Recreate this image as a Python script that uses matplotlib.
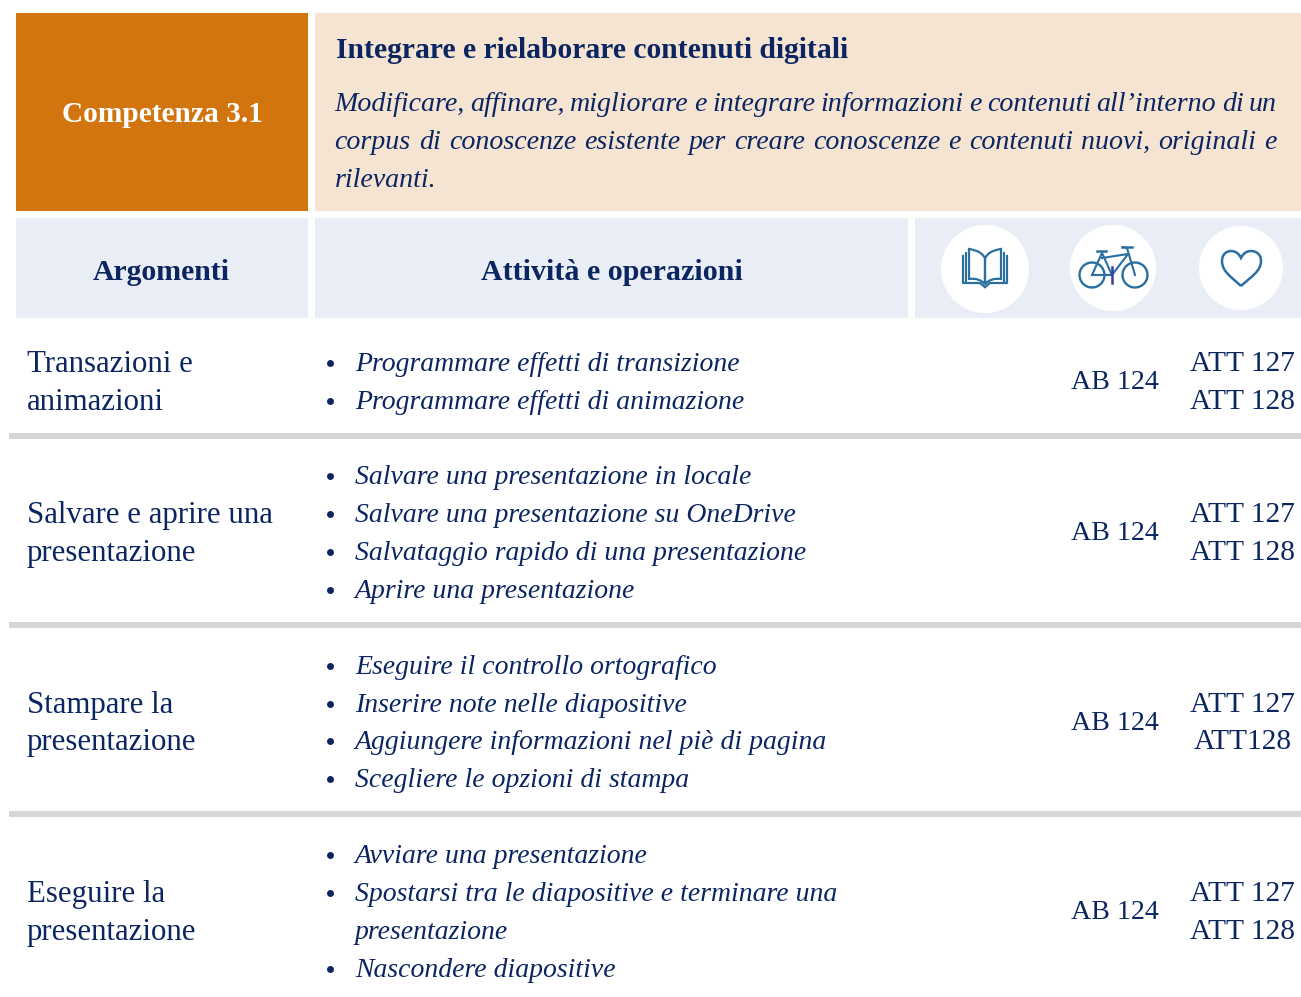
import matplotlib
matplotlib.use("Agg")
import matplotlib.pyplot as plt
from matplotlib.patches import Rectangle, Circle, PathPatch
from matplotlib.path import Path

W, H = 1301, 997
NAVY = "#0B2560"
BLUE = "#2A6F9E"
plt.rcParams["font.family"] = ["Liberation Serif", "DejaVu Serif"]

# testi
competenza = "Competenza 3.1"
titolo = "Integrare e rielaborare contenuti digitali"
descrizione = [
    "Modificare, affinare, migliorare e integrare informazioni e contenuti all’interno di un",
    "corpus di conoscenze esistente per creare conoscenze e contenuti nuovi, originali e",
    "rilevanti.",
]
intestazioni = ["Argomenti", "Attività e operazioni"]

argomenti = [
    ["Transazioni e", "animazioni"],
    ["Salvare e aprire una", "presentazione"],
    ["Stampare la", "presentazione"],
    ["Eseguire la", "presentazione"],
]
argomenti_y = [[361, 399], [512, 550], [702, 739], [891, 929]]

attivita = [
    ["Programmare effetti di transizione", "Programmare effetti di animazione"],
    ["Salvare una presentazione in locale", "Salvare una presentazione su OneDrive",
     "Salvataggio rapido di una presentazione", "Aprire una presentazione"],
    ["Eseguire il controllo ortografico", "Inserire note nelle diapositive",
     "Aggiungere informazioni nel piè di pagina", "Scegliere le opzioni di stampa"],
    ["Avviare una presentazione", "Spostarsi tra le diapositive e terminare una",
     "presentazione", "Nascondere diapositive"],
]
attivita_y = [[361, 399], [474, 512, 550, 588], [664, 702, 739, 777], [853, 891, 929, 967]]
senza_punto = ["presentazione"]

ab = ["AB 124", "AB 124", "AB 124", "AB 124"]
ab_y = [379, 530, 720, 909]
att = [["ATT 127", "ATT 128"], ["ATT 127", "ATT 128"], ["ATT 127", "ATT128"], ["ATT 127", "ATT 128"]]

fig = plt.figure(figsize=(W / 100, H / 100), dpi=100)
ax = fig.add_axes([0, 0, 1, 1])
ax.set_xlim(0, W)
ax.set_ylim(H, 0)
ax.axis("off")


def box(x0, y0, x1, y1, color):
    ax.add_patch(Rectangle((x0, y0), x1 - x0, y1 - y0, fc=color, ec="none"))


def scritta(x, y, s, size=19.6, **kw):
    kw.setdefault("color", NAVY)
    return ax.text(x, y, s, fontsize=size, va="center_baseline", **kw)


def giustifica(x0, x1, y, s, size, **kw):
    # riga giustificata: una parola alla volta
    r = fig.canvas.get_renderer()
    parole = s.split(" ")
    tt = [scritta(x0, y, p, size, **kw) for p in parole]
    ww = [t.get_window_extent(r).width for t in tt]
    gap = (x1 - x0 - sum(ww)) / (len(parole) - 1)
    x = x0
    for t, w in zip(tt, ww):
        t.set_x(x)
        x += w + gap


# blocchi
box(16, 13, 308, 211, "#D2750E")
box(315, 13, 1301, 211, "#F6E4D3")
box(16, 218, 308, 318, "#E9EDF6")
box(315, 218, 908, 318, "#E9EDF6")
box(915, 218, 1301, 318, "#E9EDF6")
for y in [433, 622, 811]:
    box(9, y, 1301, y + 6, "#D6D6D6")

scritta(162, 112, competenza, 21.2, color="white", weight="bold", ha="center")
scritta(336, 48, titolo, 21.3, weight="bold")
giustifica(334.5, 1277, 101.5, descrizione[0], 20.2, style="italic")
giustifica(334.5, 1277, 139.5, descrizione[1], 20.2, style="italic")
scritta(334.5, 177.5, descrizione[2], 20.2, style="italic")
scritta(161, 269.5, intestazioni[0], 21.4, weight="bold", ha="center")
scritta(612, 269.5, intestazioni[1], 21.6, weight="bold", ha="center")

# righe della tabella
for i in range(4):
    for s, y in zip(argomenti[i], argomenti_y[i]):
        scritta(27, y, s, 22.2)
    for s, y in zip(attivita[i], attivita_y[i]):
        scritta(355, y, s, 20, style="italic")
        if not (s in senza_punto and i == 3):
            ax.plot(330, y + 2, "o", ms=5, color=NAVY, mec="none")
    scritta(1115, ab_y[i], ab[i], 20.2, ha="center")
    scritta(1242.5, argomenti_y[i][0], att[i][0], 21.2, ha="center")
    scritta(1242.5, argomenti_y[i][1], att[i][1], 21.2, ha="center")

# icone
ax.add_patch(Circle((985, 269), 44, fc="white", ec="none"))
ax.add_patch(Circle((1113, 268), 43, fc="white", ec="none"))
ax.add_patch(Circle((1241, 268), 42, fc="white", ec="none"))

# libro
for lato in [-1, 1]:
    pag = Path([(985, 258), (985 + lato * 5, 250), (985 + lato * 12, 250), (985 + lato * 16, 249),
                (985 + lato * 16, 279), (985 + lato * 9, 278), (985 + lato * 4, 280), (985, 284), (985, 258)],
               [1, 4, 4, 4, 2, 4, 4, 4, 2])
    ax.add_patch(PathPatch(pag, fc="none", ec=BLUE, lw=1.6))
    ax.plot([985 + lato * 19, 985 + lato * 19], [253, 282], color=BLUE, lw=1.5)
    ax.plot([985 + lato * 22, 985 + lato * 22, 985 + lato * 5, 985], [256, 283, 283, 287], color=BLUE, lw=1.6)

# bicicletta
ax.add_patch(Circle((1092, 275), 12.5, fc="none", ec=BLUE, lw=1.7))
ax.add_patch(Circle((1135, 275), 12.5, fc="none", ec=BLUE, lw=1.7))
ax.plot([1092, 1102, 1112, 1092], [275, 253, 275, 275], color=BLUE, lw=1.5)
ax.plot([1102, 1128, 1112], [258, 254, 275], color=BLUE, lw=1.5)
ax.plot([1135, 1127, 1123], [275, 248, 247], color=BLUE, lw=1.5)
ax.plot([1097, 1106], [251, 251], color=BLUE, lw=1.8)
ax.plot([1122, 1132], [247, 247], color=BLUE, lw=1.8)
ax.plot([1112, 1112], [267, 283], color="#3B3F9E", lw=1.8)

# cuore
cuore = Path([(1241, 286), (1230, 276), (1222, 271), (1222, 261), (1222, 254), (1227, 251), (1231, 251),
              (1236, 251), (1239, 254), (1241, 258), (1243, 254), (1246, 251), (1251, 251),
              (1256, 251), (1261, 254), (1261, 261), (1261, 271), (1252, 276), (1241, 286)],
             [1] + [4] * 18)
ax.add_patch(PathPatch(cuore, fc="none", ec=BLUE, lw=1.8))

fig.savefig("out.png", dpi=100)
